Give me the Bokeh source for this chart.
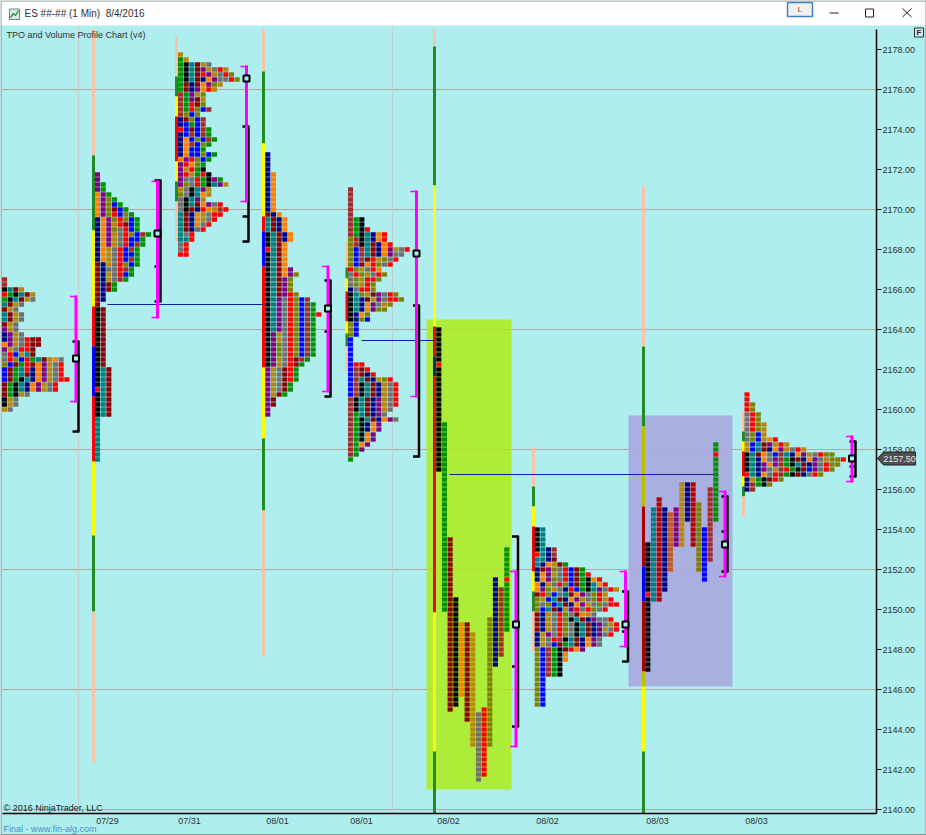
from bokeh.plotting import figure
from bokeh.models import Range1d, LinearAxis, FixedTicker, Grid, ColumnDataSource, NumeralTickFormatter
from bokeh.core.properties import value
from bokeh.embed import file_html
from bokeh.resources import INLINE

COLORS = {"k": "#000000", "t": "#008080", "m": "#8b0000", "N": "#000080", "o": "#ff8000",
          "g": "#b8860b", "y": "#707070", "r": "#ff0000", "u": "#800080", "O": "#808000",
          "b": "#0000ff", "G": "#009000", "B": "#a52a2a", "R": "#c05a20", "D": "#b00000",
          "P": "#f6c4aa", "F": "#228b22", "Y": "#ffff00", "V": "#b8c000", "W": "#a80000", "Z": "#003080"}

PRICE_TICKS = [2140 + 2 * i for i in range(20)]
GRID_PRICES = [2140, 2146, 2152, 2158, 2164, 2170, 2176]
DATE_TICKS = [107, 189, 277, 361, 448, 547, 657, 756]
DATE_LABELS = ["07/29", "07/31", "08/01", "08/01", "08/02", "08/02", "08/03", "08/03"]

S0_TOP = 2166.5
S0 = ["B", "B", "ktmg", "rGktmg", "Gktmgy", "tmgy", "mgy", "tmgy", "tmgy", "mgy", "ugy", "Nugy", "Nugyrmm",
      "ougyrmm", "ugyrrm", "yrbgtm", "yrObrGtmgoy", "ObmGrmougyr", "bmGtrNougyr", "bmGtmNougyr",
      "bmGktNougyrr", "mGktNougyr", "mGktNougyr", "mGkgy", "kgy", "kgy", "gy"]
S1_TOP = 2171.75
S1 = ["u", "u", "uG", "uG", "ouG", "ouOG", "ouObG", "ouOmbG", "ouOrbOG", "NouOrObG", "NougrmbG", "NouOyrbG",
      "NougyrObBG", "NougyrbbG", "NougyrbBG", "NogyrbBG", "NogyrbbG", "NogyrbBG", "mNgyrObG", "mNyyrBG",
      "mNgyrbG", "mNgyBG", "mNmG", "mNmG", "mN", "mN", "m",
      "km", "km", "km", "km", "km", "km", "km", "km", "km", "km", "km", "km",
      "ktm", "ktm", "ktm", "ktm", "rtm", "ktm", "ktm", "ktm", "ktm", "ktm",
      "t", "t", "t", "t", "t", "t", "t", "t", "t"]
S2_TOP = 2177.75
S2 = ["g", "Gg", "Gktmgy", "Gktmugyrg", "GktmrugyrO", "GktmNouyyrO", "GmNmouOg", "GmNuorg", "BGugO", "BGumg",
      "BGrmO", "BGrObB", "BObO", "NmObB", "NbGbB", "rbmbBG", "NbBbBG", "NobObBG", "NoBbOG", "NobbG", "NobbObG",
      "ourObG", "uroOG", "ugrGk", "urgGrk", "uyyrGkuG", "uOyrGktug", "gyktug", "Oyktog", "yktug", "yktmouyr",
      "ykmNrogBr", "tmNogyrr", "tmNogyr", "tmNoyr", "tmNyr", "tyr", "ttr", "yr", "yr", "rr"]
S3_TOP = 2172.75
S3 = ["N", "N", "N", "N", "No", "No", "No", "No", "No", "No", "No", "No", "mNo", "tmNo", "tmNo", "tmNo", "ktmNo",
      "ktmNo", "ktmo", "rtmo", "ktmo", "ktmo", "ktmo", "ktmou", "ktmouO", "ktmuO", "ktmuO", "ktmuO", "ktmurO",
      "ktuyrObB", "ktuyrObBG", "ktuyrObBG", "ktuyrObBGr", "ktuyrObBG", "ktuyrObBG", "ktuyrObBG", "kugyrObBG",
      "kugyrObBG", "kuOyrObBG", "kuOyrObBG", "kuOyrObBG", "kugyrmBG", "kugyrmG", "ugymrG", "ugymrG", "ugymrG",
      "ugymG", "ugymG", "ugmG", "um", "um", "u", "u"]
S4_TOP = 2171.0
S4 = ["B", "B", "B", "B", "B", "B", "BGk", "BGk", "BGkr", "BGktNor", "OBktNor", "OBktmNor", "ObBtmNougyr",
      "ObBtmNouyy", "ObBmrgOyr", "ObmorOyr", "rOgyro", "yrOgyrO", "yOgrrO", "yOgrO", "NyrrO", "ktOgmuyrO",
      "ktNmguyrrO", "ktNouygO", "ktNouOO", "kNoO", "kNOb", "Ob", "Ob", "Ob", "b", "b", "b", "b", "b", "brr",
      "bBmr", "bBmNr", "bBtmNgOr", "bBktmNgyr", "bBktmNgyr", "bBktmNgyr", "BktmNugyr", "BktmNugyr", "BktmNugy",
      "BGtmNuy", "BGktmNouy", "BGkNou", "BGkNou", "BGkou", "BGkou", "BGou", "BGu", "BG", "G"]
S6_TOP = 2154.0
S6 = ["kt", "kt", "kt", "kt", "ktNB", "rtNB", "ttNm", "tNogmG", "NmuOyrbmG", "NougyrbmGr", "NouOyrbmGkor",
      "oNgyrObmGktor", "ouOgyNrbGktuyrg", "mrObytmouyOrg", "OgbtmNougyOrgr", "OyObtmNougyOyrr", "ObtmNguryrOyr",
      "mNgyrOymogy", "mNgyrOktmNuyyr", "mNgyrOyktmNuygr", "mNgyrOyktmNugyr", "NguyrOyktmNuyr", "NgyrBktmNouy",
      "NgybmGtmNouy", "ObBGkmrou", "ObBGko", "ObBGko", "ObBGk", "ObBGk", "ObBGk", "Ob", "Ob", "Ob", "Ob", "Ob", "Ob"]
S8_TOP = 2160.75
S8 = ["r", "r", "rO", "rO", "yrO", "yrO", "yrOg", "yrOg", "yObg", "yObgor", "gbtmugrg", "gbtmNougyrg",
      "ktmoybBtNougyrOO", "ktNoyuBGkmNouygOOr", "ktNuouBGktmNuyrOO", "ktNuygBrGkmbuyrO", "rtNoyrBGkmNyrO",
      "NgGkmrO", "NBGkO", "NB"]
# column runs: colour, top price, bottom price
S5_RUNS = [("k", 2164.0, 2157.0), ("G", 2159.25, 2150.0), ("m", 2153.5, 2145.0), ("k", 2150.5, 2145.25),
           ("o", 2149.25, 2145.75), ("m", 2149.25, 2144.5), ("g", 2148.75, 2143.25), ("y", 2144.75, 2141.5),
           ("r", 2145.0, 2141.75), ("O", 2149.5, 2143.25), ("N", 2151.5, 2147.25), ("B", 2151.0, 2147.75),
           ("G", 2153.0, 2149.0)]
S5_MARKS = [(0, 2162.25, "r"), (12, 2151.5, "r")]
S7_RUNS = [("k", 2153.25, 2147.0), ("t", 2155.0, 2150.5), ("D", 2155.5, 2150.5), ("N", 2155.0, 2151.0),
           ("R", 2154.75, 2152.0), ("u", 2155.0, 2153.25), ("g", 2156.25, 2153.25), ("N", 2156.25, 2154.5),
           ("D", 2156.25, 2153.25), ("O", 2155.25, 2152.0), ("b", 2154.0, 2151.5), ("B", 2156.0, 2152.5),
           ("G", 2158.25, 2154.5)]
S7_MARKS = [(0, 2150.75, "r"), (12, 2157.75, "r")]

BAR_X = [93, 176, 263, 346.5, 434, 533, 643, 743]
BAR_EDGES = [
    [2179.0, 2172.7, 2168.95, 2165.15, 2163.15, 2160.65, 2157.4, 2153.7, 2149.9, 2142.35],
    [2178.65, 2176.65, 2175.65, 2174.65, 2172.4, 2171.4, 2170.4, 2168.4],
    [2179.0, 2176.9, 2173.3, 2169.65, 2168.9, 2167.15, 2162.1, 2158.55, 2154.95, 2147.65],
    [2168.4, 2167.1, 2166.55, 2165.9, 2164.4, 2163.8, 2163.15, 2161.9],
    [2179.0, 2178.15, 2171.2, 2164.15, 2162.65, 2161.65, 2149.85, 2142.9, 2139.8],
    [2158.1, 2156.15, 2155.15, 2154.15, 2151.9, 2150.9, 2149.9, 2147.9],
    [2171.15, 2163.15, 2159.15, 2155.15, 2152.15, 2150.4, 2146.9, 2146.15, 2142.9, 2139.8],
    [2159.9, 2158.9, 2158.4, 2157.9, 2156.65, 2156.15, 2155.65, 2154.65],
]
BAR_CODES = ["PFYrbrYFP", "PFYrYFP", "PFYrbrYFP", "PFYrYFP", "PFYrZrYF", "PFYrYFP", "PFVWbWVYF", "PFYrYFP"]

MAG_X = [75.5, 157, 246, 327.5, 416, 515.5, 625, 724.5, 851.5]
MAG_TOP = [2165.65, 2171.4, 2177.15, 2167.15, 2170.9, 2151.9, 2151.9, 2155.9, 2158.65]
MAG_BOT = [2160.4, 2164.6, 2170.4, 2160.9, 2160.65, 2143.15, 2148.15, 2151.65, 2156.4]
BLK_X = [78, 160, 248, 330, 418.5, 517.5, 627.5, 727, 855]
BLK_TOP = [2163.4, 2171.45, 2174.15, 2166.45, 2165.2, 2153.65, 2150.9, 2155.65, 2158.4]
BLK_BOT = [2158.9, 2165.4, 2168.4, 2160.65, 2157.65, 2144.15, 2147.4, 2151.9, 2156.65]
BLK_MID = [None, 2167.15, 2169.65, 2163.9, None, 2147.15, 2148.9, 2153.9, 2157.15]
POC = [2162.55, 2168.8, 2176.55, 2165.05, 2167.8, 2149.25, 2149.25, 2153.25, 2157.55]

NAKED_PRICE = [2165.25, 2163.45, 2156.75]
NAKED_X0 = [107, 361, 449]
NAKED_X1 = [263, 434, 713]
VLINES = [78, 392]

GREEN_BOX = dict(left=426, right=511, top=2164.5, bottom=2141.0)
BLUE_BOX = dict(left=628, right=732, top=2159.7, bottom=2146.15)

CYAN = "#aeeeee"
FONT = "Liberation Sans"
STEP = 17 / 3


def py(y):
    return 2178 - (y - 49) / 20


p = figure(width=926, height=835, output_backend="svg", toolbar_location=None,
           x_range=Range1d(0, 926), y_range=Range1d(py(835), py(0)),
           x_axis_location=None, y_axis_location=None,
           min_border=0, min_border_left=0, min_border_right=0, min_border_top=0, min_border_bottom=0,
           background_fill_color=CYAN, border_fill_color=CYAN, outline_line_color=None)
p.grid.visible = False

hg = Grid(dimension=1, ticker=FixedTicker(ticks=GRID_PRICES), grid_line_color="#b4a4a4", grid_line_width=1,
          cross_bounds=(2, 876))
vg = Grid(dimension=0, ticker=FixedTicker(ticks=VLINES), grid_line_color="#c4cccc", grid_line_width=1,
          cross_bounds=(py(813), py(25)))
p.add_layout(hg)
p.add_layout(vg)

# shaded boxes
p.quad(left=GREEN_BOX["left"], right=GREEN_BOX["right"], top=GREEN_BOX["top"], bottom=GREEN_BOX["bottom"],
       fill_color="#adec15", fill_alpha=0.84, line_color=None)
p.quad(left=BLUE_BOX["left"], right=BLUE_BOX["right"], top=BLUE_BOX["top"], bottom=BLUE_BOX["bottom"],
       fill_color="#a8a8df", fill_alpha=0.9, line_color=None)

# session bars
bx, bt, bb, bc = [], [], [], []
for x, edges, codes in zip(BAR_X, BAR_EDGES, BAR_CODES):
    for i, code in enumerate(codes):
        bx.append(x); bt.append(edges[i]); bb.append(edges[i + 1]); bc.append(COLORS[code])
p.vbar(x=bx, width=3, top=bt, bottom=bb, fill_color=bc, line_color=None)

# TPO cells
cx, cy, cc = [], [], []
for x0, top, rows in [(4, S0_TOP, S0), (97, S1_TOP, S1), (180, S2_TOP, S2), (267.3, S3_TOP, S3),
                      (350, S4_TOP, S4), (536.7, S6_TOP, S6), (746.5, S8_TOP, S8)]:
    for n, row in enumerate(rows):
        for j, ch in enumerate(row):
            cx.append(x0 + j * STEP); cy.append(top - n * 0.25); cc.append(COLORS[ch])
for x0, runs, marks in [(438.3, S5_RUNS, S5_MARKS), (647.3, S7_RUNS, S7_MARKS)]:
    mk = {(c, pr): col for c, pr, col in marks}
    for j, (ch, top, bot) in enumerate(runs):
        pr = top
        while pr >= bot:
            cx.append(x0 + j * STEP); cy.append(pr); cc.append(COLORS[mk.get((j, pr), ch)])
            pr -= 0.25
p.rect(x="x", y="y", width=5.1, height=0.215, fill_color="c", line_color=None,
       source=ColumnDataSource(dict(x=cx, y=cy, c=cc)))

# naked POC lines
p.segment(x0=NAKED_X0, x1=NAKED_X1, y0=NAKED_PRICE, y1=NAKED_PRICE, line_color="#1c1ca0", line_width=1)

# black brackets
sx0, sx1, sy0, sy1 = [], [], [], []
for x, t, b, m in zip(BLK_X, BLK_TOP, BLK_BOT, BLK_MID):
    sx0 += [x, x - 6, x - 6]; sx1 += [x, x, x]; sy0 += [t + 0.05, t, b]; sy1 += [b - 0.05, t, b]
    if m is not None:
        sx0.append(x - 6); sx1.append(x); sy0.append(m); sy1.append(m)
p.segment(x0=sx0, x1=sx1, y0=sy0, y1=sy1, line_color="#000000", line_width=2.5)

# magenta brackets
sx0, sx1, sy0, sy1 = [], [], [], []
for x, t, b in zip(MAG_X, MAG_TOP, MAG_BOT):
    sx0 += [x, x - 6, x - 6]; sx1 += [x, x + 1, x + 1]; sy0 += [t + 0.05, t, b]; sy1 += [b - 0.05, t, b]
p.segment(x0=sx0[0::3], x1=sx1[0::3], y0=sy0[0::3], y1=sy1[0::3], line_color="#ff00ff", line_width=3)
p.segment(x0=sx0[1::3] + sx0[2::3], x1=sx1[1::3] + sx1[2::3], y0=sy0[1::3] + sy0[2::3], y1=sy1[1::3] + sy1[2::3],
          line_color="#ff00ff", line_width=1.5)

# POC markers
p.scatter(x=MAG_X, y=POC, marker="square", size=6, fill_color=CYAN, line_color="#000000", line_width=2)

# window title bar
p.quad(left=0, right=926, top=py(0), bottom=py(25), fill_color="#ffffff", line_color=None)
p.quad(left=9, right=19, top=py(8.5), bottom=py(19), fill_color="#d8e8e8", line_color="#708090", line_width=1)
p.line(x=[10, 13, 15, 18], y=[py(17), py(13), py(15), py(10)], line_color="#2e9a30", line_width=1.4)
p.text(x=[24], y=[py(13)], text=["ES ##-## (1 Min)\u00a0 8/4/2016"], text_font=value(FONT), text_font_size="10px",
       text_baseline="middle", text_color="#303030")
p.quad(left=787, right=812, top=py(2), bottom=py(16), fill_color="#f0f0f0", line_color="#4080c8", line_width=1.5)
p.text(x=[799.5], y=[py(8.5)], text=["L"], text_font=value(FONT), text_font_size="8px", text_align="center",
       text_baseline="middle", text_color="#a04040")
p.segment(x0=[829], x1=[838], y0=[py(12.5)], y1=[py(12.5)], line_color="#202020", line_width=1)
p.quad(left=865, right=873, top=py(8.5), bottom=py(16.5), fill_color=None, line_color="#202020", line_width=1)
p.segment(x0=[902, 902], x1=[911, 911], y0=[py(8), py(16.5)], y1=[py(16.5), py(8)], line_color="#202020", line_width=1)

# texts in the chart
p.text(x=[6], y=[py(34)], text=["TPO and Volume Profile Chart (v4)"], text_font=value(FONT), text_font_size="9px",
       text_baseline="middle", text_color="#303030")
p.text(x=[3], y=[py(807)], text=["\u00a9 2016 NinjaTrader, LLC"], text_font=value(FONT), text_font_size="9px",
       text_baseline="middle", text_color="#202020")
p.text(x=[3], y=[py(828)], text=["Final - www.fin-alg.com"], text_font=value(FONT), text_font_size="9px",
       text_baseline="middle", text_color="#4a90c8")
p.quad(left=914, right=923, top=py(27.5), bottom=py(36.5), fill_color="#d8e8e8", line_color="#303030", line_width=1)
p.text(x=[918.5], y=[py(32)], text=["F"], text_font=value(FONT), text_font_size="8px", text_align="center",
       text_baseline="middle", text_color="#202040", text_font_style="bold")

# window border
p.segment(x0=[0, 0.5, 925.5, 0], x1=[926, 0.5, 925.5, 926], y0=[py(0.5), py(0), py(0), py(834)],
          y1=[py(0.5), py(835), py(835), py(834)], line_color="#909090", line_width=1)

# axes
yax = LinearAxis(fixed_location=876, ticker=FixedTicker(ticks=PRICE_TICKS), bounds=(py(813), py(29)))
yax.formatter = NumeralTickFormatter(format="0.00")
yax.axis_line_color = "#000000"; yax.axis_line_width = 1.5
yax.major_tick_line_color = "#000000"; yax.major_tick_out = 5; yax.major_tick_in = 0; yax.minor_tick_line_color = None
yax.major_label_text_font = FONT; yax.major_label_text_font_size = "9px"; yax.major_label_text_color = "#303030"
yax.major_label_standoff = 1
p.add_layout(yax, "right")

xax = LinearAxis(fixed_location=py(812.7), ticker=FixedTicker(ticks=DATE_TICKS), bounds=(2, 876))
xax.major_label_overrides = {t: l for t, l in zip(DATE_TICKS, DATE_LABELS)}
xax.axis_line_color = "#000000"; xax.axis_line_width = 1.5
xax.major_tick_line_color = None; xax.minor_tick_line_color = None
xax.major_tick_out = 0; xax.major_tick_in = 0
xax.major_label_text_font = FONT; xax.major_label_text_font_size = "9px"; xax.major_label_text_color = "#303030"
xax.major_label_standoff = 3
p.add_layout(xax, "below")

# last-price tag
p.patch(x=[877, 883, 915, 915, 883], y=[py(458), py(451.5), py(451.5), py(464.5), py(464.5)],
        fill_color="#505050", line_color="#202020", line_width=1, level="overlay")
p.text(x=[899], y=[py(458)], text=["2157.50"], text_font=value(FONT), text_font_size="9px", text_align="center",
       text_baseline="middle", text_color="#e8e8e8", level="overlay")

open("out.html", "w").write(file_html(p, INLINE))
